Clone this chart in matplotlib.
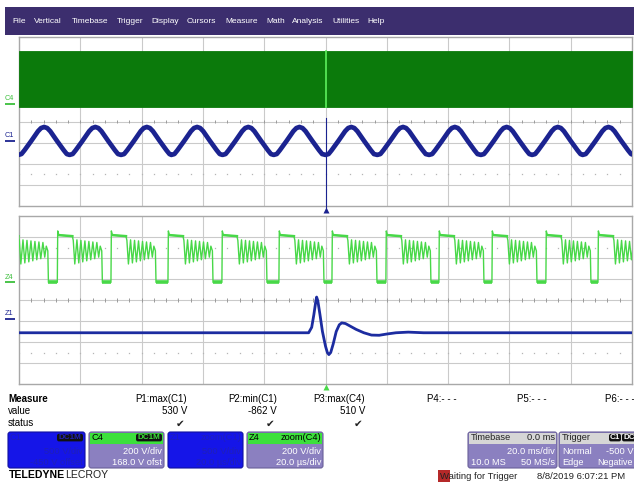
import matplotlib
matplotlib.use('Agg')
import matplotlib.pyplot as plt
from matplotlib.patches import Rectangle, FancyBboxPatch
from matplotlib.transforms import blended_transform_factory
import numpy as np

W, H = 634, 482
plt.rcParams['font.family'] = ['Liberation Sans', 'DejaVu Sans']

# ------------------------------------------------------------------ data
menu_items = ['File', 'Vertical', 'Timebase', 'Trigger', 'Display', 'Cursors',
              'Measure', 'Math', 'Analysis', 'Utilities', 'Help']

# vertical settings (V/div, offset V)
c1_scale, c1_offset = 500, -450
c4_scale, c4_offset = 200, 168

# C4 (ms timebase): dense switching -> solid band between these levels
c4_band_t = [-100, 100]
c4_band_low = [-30, -30]
c4_band_high = [500, 500]
c4_spike_t = 0.0

# C1 (ms timebase): trough times and one period shape (offset ms, volts)
c1_trough_t = [-100.2, -83.5, -66.7, -50.3, -33.6, -16.9, 0.0,
               16.9, 33.8, 50.7, 67.4, 83.9, 100.6]
c1_shape_dt = [0.0, 1.0, 2.0, 4.2, 6.4, 7.4, 8.4, 9.4, 10.4, 12.6, 14.8, 15.8]
c1_shape_v = [-340, -320, -230, -10, 220, 295, 320, 295, 220, -10, -230, -320]

# Z4 = zoom(C4) (us timebase): rise times and one switching period shape
z4_rise_t = [-105.1, -87.5, -70.0, -51.4, -33.8, -15.2, 2.1, 19.7,
             37.0, 54.3, 71.9, 88.9]
z4_shape_dt = [0.0, 0.13, 0.49, 4.9, 5.2, 5.7, 6.4, 7.0, 7.7, 8.3, 9.0, 9.6,
               10.3, 10.9, 11.6, 12.2, 12.9, 13.5, 14.0, 14.5, 14.7]
z4_shape_v = [0, 490, 450, 440, 400, 175, 405, 185, 400, 195, 395, 205,
              390, 215, 385, 225, 380, 240, 345, 300, 0]

# Z1 = zoom(C1) (us timebase): transient at trigger
z1_t = [-100, -5.5, -4.5, -3.8, -3.2, -2.9, -2.5, -1.8, -1.0, 0.0, 0.6, 1.1,
        1.7, 2.5, 3.5, 4.5, 5.3, 6.5, 8.0, 10.0, 12.5, 15.0, 17.5, 20.0,
        23.0, 27.0, 32.0, 100]
z1_v = [-330, -330, -200, 100, 400, 520, 430, 100, -300, -650, -800, -850,
        -800, -600, -300, -140, -95, -110, -170, -250, -330, -385, -390,
        -360, -330, -315, -330, -330]

measure_names = ['P1:max(C1)', 'P2:min(C1)', 'P3:max(C4)']
measure_values = ['530 V', '-862 V', '510 V']
empty_params = ['P4:- - -', 'P5:- - -', 'P6:- - -']

# ------------------------------------------------------------------ colors
NAVY = '#1b2390'
GREEN_DARK = '#0b7a0b'
GREEN_LIGHT = '#48d848'
GRID = '#cacaca'
LAV = '#8b80c0'
BLUE_BOX = '#1515e8'
GREEN_HDR = '#3ce03c'

fig = plt.figure(figsize=(W / 100, H / 100), dpi=100)
fig.patch.set_facecolor('white')


def rect_px(x0, y0, x1, y1):
    return [x0 / W, 1 - y1 / H, (x1 - x0) / W, (y1 - y0) / H]


def draw_grid(ax):
    ax.set_xlim(-5, 5)
    ax.set_ylim(-4, 4)
    for k in range(-4, 5):
        ax.axvline(k, color=GRID, lw=0.8, zorder=0)
    for k in range(-3, 4):
        ax.axhline(k, color=GRID, lw=0.8, zorder=0)
    ticks = np.arange(-5, 5.001, 0.2)
    ax.vlines(ticks, -0.09, 0.09, color='#9a9a9a', lw=0.7)
    for yy in (2.5, -2.5):
        ax.plot(ticks, np.full_like(ticks, yy), ls='none', marker='s', ms=0.9,
                mec='none', color='#b5b5b5')
    for s in ax.spines.values():
        s.set_color('#a8a8a8')
        s.set_linewidth(1.0)
    ax.set_xticks([])
    ax.set_yticks([])


def chan_axes(rect, scale, offset, z):
    a = fig.add_axes(rect, zorder=z)
    a.set_xlim(-100, 100)
    a.set_ylim(-4 * scale - offset, 4 * scale - offset)
    a.patch.set_alpha(0)
    a.axis('off')
    return a


def zero_marker(a, label, color):
    tr = blended_transform_factory(a.transAxes, a.transData)
    a.plot([-0.023, -0.006], [0, 0], color=color, lw=1.3, transform=tr,
           clip_on=False, solid_capstyle='butt')
    a.annotate(label, xy=(-0.023, 0), xycoords=tr, xytext=(0, 1.2),
               textcoords='offset points', va='bottom', ha='left',
               fontsize=5.2, color=color, annotation_clip=False)


# ---------------- upper grid (C4, C1)
up_rect = rect_px(19, 37, 632, 206)
g_up = fig.add_axes(up_rect, zorder=1)
draw_grid(g_up)

ax_c4 = chan_axes(up_rect, c4_scale, c4_offset, 2)
ax_c4.fill_between(c4_band_t, c4_band_low, c4_band_high, color=GREEN_DARK, lw=0.6)
ax_c4.plot([c4_spike_t, c4_spike_t], [c4_band_low[0], c4_band_high[0]],
           color='#5cf05c', lw=1.2)
zero_marker(ax_c4, 'C4', '#3cbf3c')

ax_c1 = chan_axes(up_rect, c1_scale, c1_offset, 3)
c1_t, c1_v = [], []
for t0 in c1_trough_t[:-1]:
    for dt, v in zip(c1_shape_dt, c1_shape_v):
        c1_t.append(t0 + dt)
        c1_v.append(v)
c1_t.append(c1_trough_t[-1])
c1_v.append(c1_shape_v[0])
ax_c1.plot(c1_t, c1_v, color=NAVY, lw=3.4, solid_joinstyle='round')
ax_c1.axvline(0, ymin=-0.03, ymax=0.52, color=NAVY, lw=0.8, clip_on=False)
ax_c1.plot([0], [-0.025], marker='^', ms=4, color=NAVY, mec='none',
           transform=blended_transform_factory(ax_c1.transData, ax_c1.transAxes),
           clip_on=False)
zero_marker(ax_c1, 'C1', NAVY)

# ---------------- lower grid (Z4, Z1)
lo_rect = rect_px(19, 216, 632, 384)
g_lo = fig.add_axes(lo_rect, zorder=1)
draw_grid(g_lo)

ax_z4 = chan_axes(lo_rect, c4_scale, c4_offset, 2)
z4_t, z4_v = [], []
for r in z4_rise_t:
    for dt, v in zip(z4_shape_dt, z4_shape_v):
        z4_t.append(r + dt)
        z4_v.append(v)
ax_z4.plot(z4_t, z4_v, color=GREEN_LIGHT, lw=1.0)
for a_, b_ in zip(z4_rise_t[:-1], z4_rise_t[1:]):
    ax_z4.plot([a_ + z4_shape_dt[-1], b_], [0, 0], color=GREEN_LIGHT, lw=2.6,
               solid_capstyle='butt')
for r in z4_rise_t:
    ax_z4.plot([r + z4_shape_dt[2], r + z4_shape_dt[3]],
               [z4_shape_v[2], z4_shape_v[3]], color=GREEN_LIGHT, lw=1.8)
zero_marker(ax_z4, 'Z4', '#3cbf3c')

ax_z1 = chan_axes(lo_rect, c1_scale, c1_offset, 3)
ax_z1.plot(z1_t, z1_v, color='#1c2ca0', lw=2.0, solid_joinstyle='round')
zero_marker(ax_z1, 'Z1', NAVY)
ax_z1.plot([0], [-0.018], marker='^', ms=4, color=GREEN_LIGHT, mec='none',
           transform=blended_transform_factory(ax_z1.transData, ax_z1.transAxes),
           clip_on=False)

# ---------------- overlay in pixel coordinates (menu, measure, boxes)
ov = fig.add_axes([0, 0, 1, 1], zorder=10)
ov.set_xlim(0, W)
ov.set_ylim(H, 0)
ov.axis('off')
ov.patch.set_alpha(0)

ov.add_patch(Rectangle((5, 7), W - 5, 28, color='#3c2e6e', lw=0))
menu_x = [12, 34, 72, 117, 151, 187, 225, 266, 292, 332, 367]
for x, s in zip(menu_x, menu_items):
    ov.text(x, 21.5, s, color='white', fontsize=6, va='center', ha='left')

FS = 7
ov.text(8, 399, 'Measure', fontsize=FS, fontweight='bold', va='center')
ov.text(8, 411.5, 'value', fontsize=FS, va='center')
ov.text(8, 423.5, 'status', fontsize=FS, va='center')
col_right = [187, 277, 365]
for xr, nm, vl in zip(col_right, measure_names, measure_values):
    ov.text(xr, 399, nm, fontsize=FS, ha='right', va='center')
    ov.text(xr, 411.5, vl, fontsize=FS, ha='right', va='center')
    ov.text(xr - 2, 424, '\u2714', fontsize=7.5, ha='right', va='center',
            family=['DejaVu Sans'], color='#222222')
for xl, nm in zip([427, 517, 605], empty_params):
    ov.text(xl, 399, nm, fontsize=FS, ha='left', va='center')


def box(x0, x1, hdr, body, edge):
    y0, y1, yh = 432, 468, 443
    ov.add_patch(FancyBboxPatch((x0, y0), x1 - x0, y1 - y0,
                                boxstyle='round,pad=0,rounding_size=2.5',
                                fc=body, ec=edge, lw=0.8))
    ov.add_patch(Rectangle((x0 + 0.6, y0 + 0.6), x1 - x0 - 1.2, yh - y0,
                           fc=hdr, ec='none'))


def badge(x0, x1, txt, tc):
    ov.add_patch(FancyBboxPatch((x0, 433.8), x1 - x0, 7.6,
                                boxstyle='round,pad=0,rounding_size=2',
                                fc='#111111', ec='none'))
    ov.text((x0 + x1) / 2, 437.8, txt, fontsize=5.8, color=tc, ha='center',
            va='center', fontweight='bold')


BF = 6.7
DB = '#2020b8'
# C1 box
box(8, 85, BLUE_BOX, BLUE_BOX, '#1010a0')
ov.text(10, 437.8, 'C1', fontsize=BF, color=DB, va='center')
badge(57, 83, 'DC1M', DB)
ov.text(83, 451, '500 V/div', fontsize=BF, color=DB, ha='right', va='center')
ov.text(83, 462.5, '-450 V offset', fontsize=BF, color=DB, ha='right', va='center')
# C4 box
box(89, 164, GREEN_HDR, LAV, '#6a609a')
ov.text(91, 437.8, 'C4', fontsize=BF, color='black', va='center')
badge(136, 162, 'DC1M', GREEN_HDR)
ov.text(162, 451, '200 V/div', fontsize=BF, color='white', ha='right', va='center')
ov.text(162, 462.5, '168.0 V ofst', fontsize=BF, color='white', ha='right', va='center')
# Z1 box
box(168, 243, BLUE_BOX, BLUE_BOX, '#1010a0')
ov.text(170, 437.8, 'Z1', fontsize=BF, color=DB, va='center')
ov.text(241, 437.8, 'zoom(C1)', fontsize=BF, color=DB, ha='right', va='center')
ov.text(241, 451, '500 V/div', fontsize=BF, color=DB, ha='right', va='center')
ov.text(241, 462.5, '20.0 \u00b5s/div', fontsize=BF, color=DB, ha='right', va='center')
# Z4 box
box(247, 323, GREEN_HDR, LAV, '#6a609a')
ov.text(249, 437.8, 'Z4', fontsize=BF, color='black', va='center')
ov.text(321, 437.8, 'zoom(C4)', fontsize=BF, color='black', ha='right', va='center')
ov.text(321, 451, '200 V/div', fontsize=BF, color='white', ha='right', va='center')
ov.text(321, 462.5, '20.0 \u00b5s/div', fontsize=BF, color='white', ha='right', va='center')
# Timebase box
box(468, 557, '#d6d6d6', LAV, '#6a609a')
ov.text(471, 437.8, 'Timebase', fontsize=BF, color='#222222', va='center')
ov.text(555, 437.8, '0.0 ms', fontsize=BF, color='#222222', ha='right', va='center')
ov.text(555, 451, '20.0 ms/div', fontsize=BF, color='white', ha='right', va='center')
ov.text(471, 462.5, '10.0 MS', fontsize=BF, color='white', va='center')
ov.text(555, 462.5, '50 MS/s', fontsize=BF, color='white', ha='right', va='center')
# Trigger box
box(559, 640, '#d6d6d6', LAV, '#6a609a')
ov.text(562, 437.8, 'Trigger', fontsize=BF, color='#222222', va='center')
badge(609, 621, 'C1', 'white')
badge(622, 636, 'DC', 'white')
ov.text(562, 451, 'Normal', fontsize=BF, color='white', va='center')
ov.text(633, 451, '-500 V', fontsize=BF, color='white', ha='right', va='center')
ov.text(562, 462.5, 'Edge', fontsize=BF, color='white', va='center')
ov.text(633, 462.5, 'Negative', fontsize=6.4, color='white', ha='right', va='center')

# brand, status
ov.text(9, 475.5, 'TELEDYNE', fontsize=7.6, fontweight='bold', va='center')
ov.text(65, 475.5, 'LECROY', fontsize=7.6, va='center', color='#222222')
ov.text(440, 476.5, 'Waiting for Trigger', fontsize=6.8, va='center', color='#222222')
ov.add_patch(Rectangle((438, 470), 12, 12, fc='#b01818', ec='none', alpha=0.93))
ov.text(537, 476.5, '8/8/2019 6:07:21 PM', fontsize=6.8, va='center', color='#222222')

fig.savefig('out.png', dpi=100)
